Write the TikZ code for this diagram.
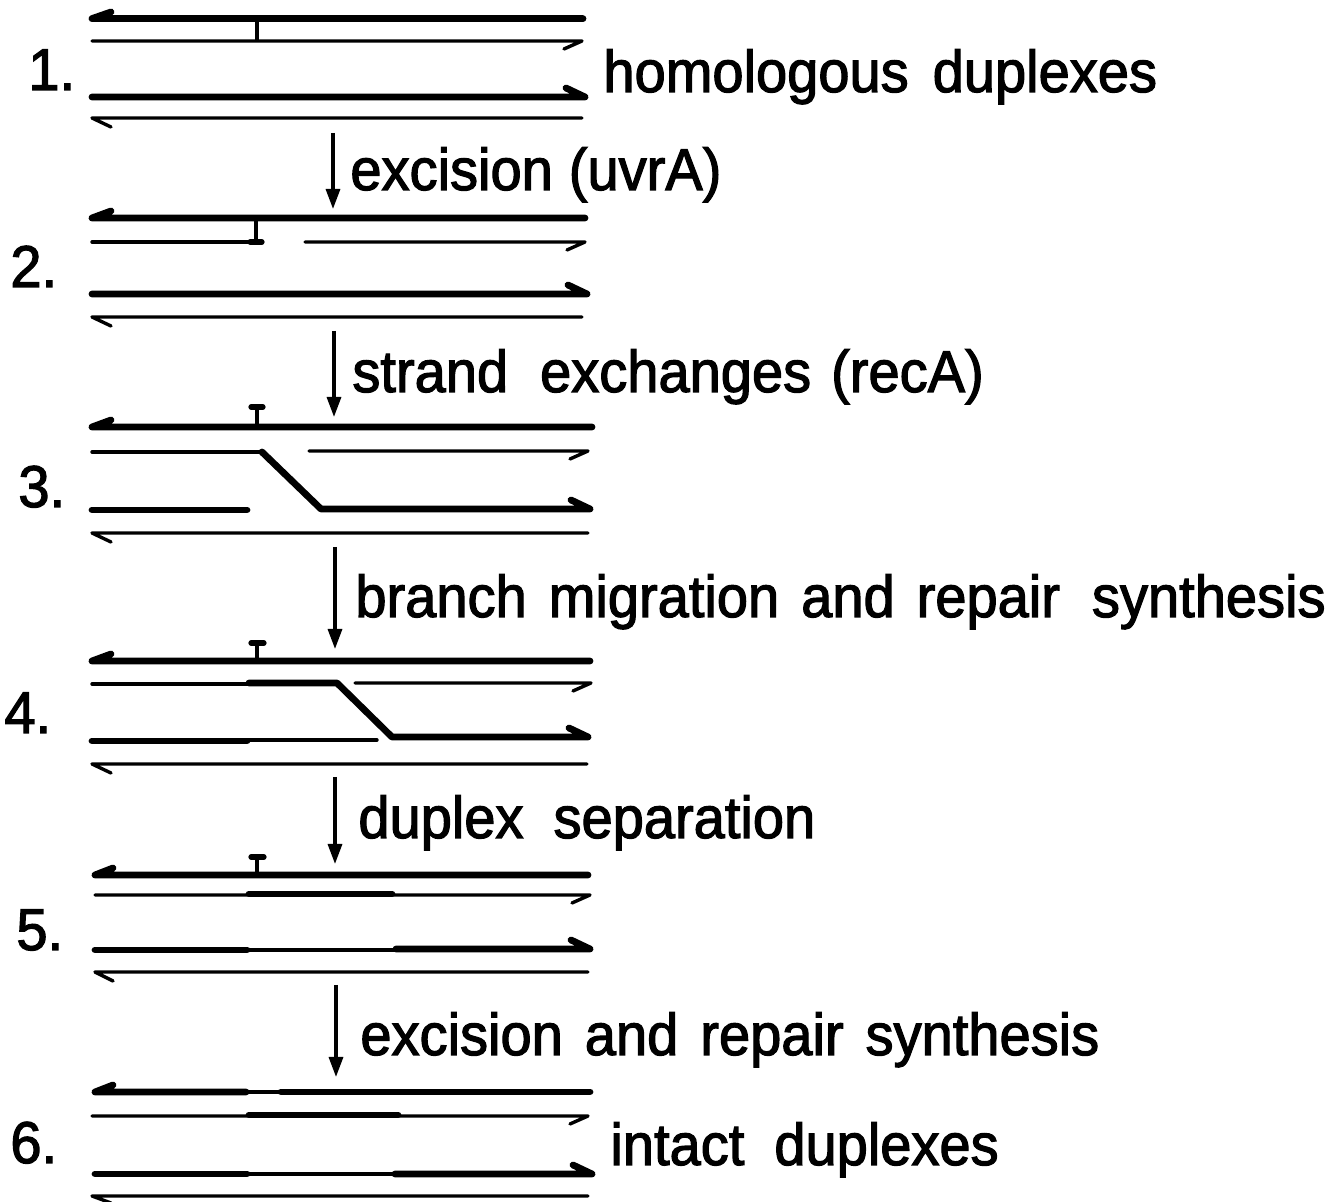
\documentclass[tikz,border=0pt]{standalone}
\usepackage{fontspec}
\newfontfamily\lblfamily{Liberation Sans}[FakeStretch=0.95,FakeBold=2]
\newcommand\lblfont{\lblfamily\fontsize{29.5}{32}\selectfont}
\newcommand\gap[1]{\hspace{#1pt}}
\usetikzlibrary{arrows.meta}
\tikzset{
  thk/.style={line width=3.4pt, line cap=round, line join=round},
  thn/.style={line width=1.7pt, line cap=round, line join=round},
  lesion/.style={line width=1.7pt},
  serif/.style={line width=2.6pt, line cap=round},
  steparrow/.style={line width=1.6pt, -{Triangle[length=10pt,width=7pt]}},
  lbl/.style={anchor=base west, inner sep=0pt, font=\lblfont},
}
\begin{document}
\begin{tikzpicture}[x=0.5pt,y=-0.5pt]
\useasboundingbox (0,0) rectangle (1341,1202);
% ---------- step 1
\draw[thk] (111,12) -- (92,18.6) -- (583,18.6);
\draw[lesion] (257,21) -- (257,40);
\draw[thn] (92,41) -- (582,41) -- (564,49);
\draw[thk] (92,97) -- (585,97) -- (566,88);
\draw[thn] (111,127) -- (92,118) -- (582,118);
% ---------- step 2
\draw[thk] (111,211) -- (92,218) -- (585,218);
\draw[lesion] (256,218) -- (256,241);
\draw[serif] (250,242) -- (262,242);
\draw[thn] (92,242) -- (249,242);
\draw[thn] (305,242) -- (585,242) -- (567,250);
\draw[thk] (92,294) -- (587,294) -- (568,285);
\draw[thn] (111,326) -- (92,317) -- (582,317);
% ---------- step 3
\draw[thk] (111,420) -- (92,427) -- (592,427);
\draw[lesion] (257,427) -- (257,408);
\draw[serif] (251,407) -- (263,407);
\draw[thn] (92,452) -- (262,452);
\draw[thk] (262,452) -- (321,509) -- (590,509) -- (571,500);
\draw[thn] (309,451) -- (588,451) -- (570,459);
\draw[thk] (92,510) -- (247,510);
\draw[thn] (111,542) -- (92,533) -- (588,533);
% ---------- step 4
\draw[thk] (111,654) -- (92,661) -- (590,661);
\draw[lesion] (257,661) -- (257,644);
\draw[serif] (251,643) -- (264,643);
\draw[thn] (92,684) -- (249,684);
\draw[thk] (249,683) -- (337,683) -- (392,737) -- (588,737) -- (569,728);
\draw[thn] (355,683) -- (591,683) -- (573,691);
\draw[thk] (92,741) -- (247,741);
\draw[thn] (247,740) -- (377,740);
\draw[thn] (111,773) -- (92,764) -- (587,764);
% ---------- step 5
\draw[thk] (113,868) -- (95,875) -- (588,875);
\draw[lesion] (257,875) -- (257,858);
\draw[serif] (251,857) -- (264,857);
\draw[thn] (95,895) -- (590,895) -- (572,903);
\draw[thk] (249,894) -- (392,894);
\draw[thk] (95,950) -- (247,950);
\draw[thn] (247,950) -- (396,950);
\draw[thk] (396,949) -- (590,949) -- (571,940);
\draw[thn] (113,981) -- (95,972) -- (588,972);
% ---------- step 6
\draw[thk] (113,1085) -- (95,1092) -- (246,1092);
\draw[thn] (246,1092) -- (281,1092);
\draw[thk] (281,1092) -- (590,1092);
\draw[thn] (92,1116) -- (588,1116) -- (570,1124);
\draw[thk] (249,1115) -- (398,1115);
\draw[thk] (95,1174) -- (247,1174);
\draw[thn] (247,1174) -- (395,1174);
\draw[thk] (395,1174) -- (592,1174) -- (573,1165);
\draw[thn] (111,1203) -- (92,1196) -- (588,1196);
% ---------- step arrows
\coordinate (a1s) at (333,133); \coordinate (a1e) at (333,209);
\coordinate (a2s) at (334,331); \coordinate (a2e) at (334,417);
\coordinate (a3s) at (335,547); \coordinate (a3e) at (335,649);
\coordinate (a4s) at (335,777); \coordinate (a4e) at (335,864);
\coordinate (a5s) at (336,985); \coordinate (a5e) at (336,1077);
\draw[steparrow] (a1s) -- (a1e);
\draw[steparrow] (a2s) -- (a2e);
\draw[steparrow] (a3s) -- (a3e);
\draw[steparrow] (a4s) -- (a4e);
\draw[steparrow] (a5s) -- (a5e);
% ---------- labels
\node[lbl] (n1) at (28,90) {1.};
\node[lbl] (n2) at (10,287) {2.};
\node[lbl] (n3) at (18,507) {3.};
\node[lbl] (n4) at (4,733) {4.};
\node[lbl] (n5) at (16,950) {5.};
\node[lbl] (n6) at (10,1163) {6.};
\node[lbl] (t1) at (603,92) {homologous\gap{12}duplexes};
\node[lbl] (t2) at (350,190) {excision\gap{8}(uvrA)};
\node[lbl] (t3) at (352,392) {strand\gap{16}exchanges\gap{10}(recA)};
\node[lbl] (t4) at (355,617) {branch\gap{11}migration\gap{11}and\gap{11}repair\gap{16}synthesis};
\node[lbl] (t5) at (358,838) {duplex\gap{15}separation};
\node[lbl] (t6) at (360,1055) {excision\gap{11}and\gap{11}repair\gap{11}synthesis};
\node[lbl] (t7) at (610,1165) {intact\gap{15}duplexes};
\end{tikzpicture}
\end{document}
